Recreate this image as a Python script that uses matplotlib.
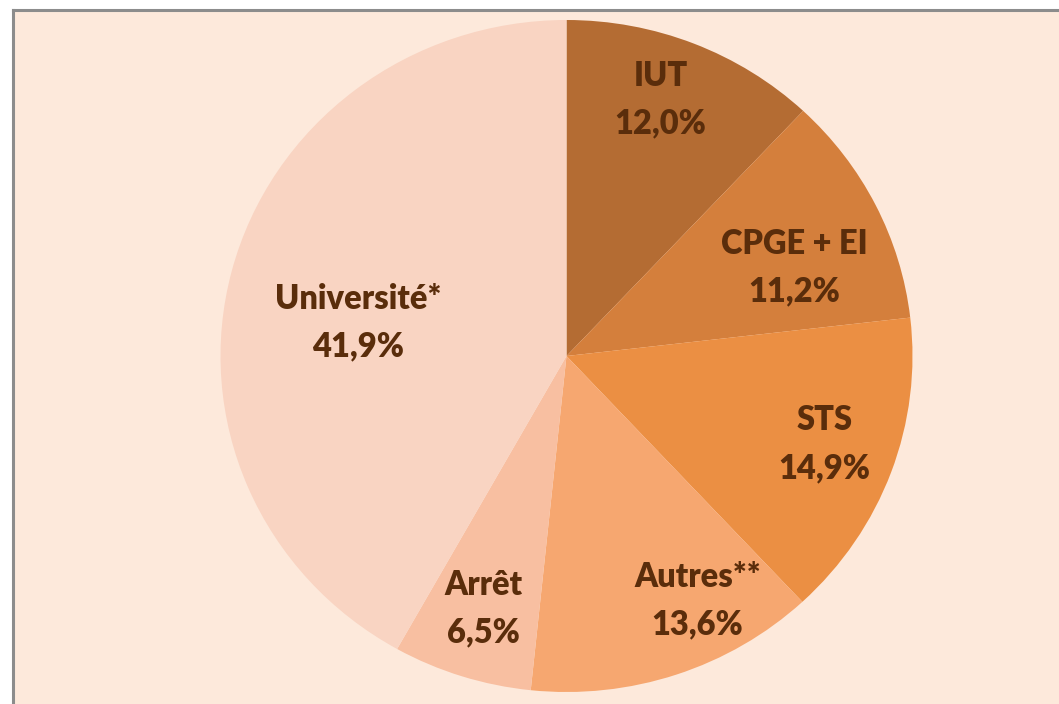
import numpy as np
import matplotlib
matplotlib.use('Agg')
import matplotlib.pyplot as plt
from matplotlib.lines import Line2D
from matplotlib.patches import Rectangle

# Data (part of each orientation, %)
labels = ['IUT', 'CPGE + EI', 'STS', 'Autres**', 'Arrêt', 'Université*']
values = [12.0, 11.2, 14.9, 13.6, 6.5, 41.9]
value_labels = ['12,0%', '11,2%', '14,9%', '13,6%', '6,5%', '41,9%']

colors = ['#B46C33', '#D47F3C', '#EB8F43', '#F6A770', '#F8BFA1', '#F9D4C2']
bg = '#FDE9DB'
txt_color = '#5A2D0B'

# label placement: distance from centre and angular shift vs wedge middle
label_dist = [0.81, 0.71, 0.79, 0.82, 0.79, 0.61]
label_shift = [2.0, -5.0, 0.8, 9.0, 0.0, 5.3]

W, H = 1059, 704
fig = plt.figure(figsize=(W / 100, H / 100), dpi=100)
fig.patch.set_facecolor('white')

# chart area with grey border (right / bottom edges are cropped)
fig.patches.append(Rectangle((13 / W, 0), 1, 1 - 10 / H, transform=fig.transFigure,
                             facecolor=bg, edgecolor='none', zorder=-5))
fig.lines.append(Line2D([13 / W, 13 / W], [0, 1 - 10 / H], transform=fig.transFigure,
                        color='#8C8C8C', lw=2.2, zorder=-4))
fig.lines.append(Line2D([13 / W, 1], [1 - 10 / H, 1 - 10 / H], transform=fig.transFigure,
                        color='#8C8C8C', lw=2.2, zorder=-4))

cx, cy, rx, ry = 566.5, 356, 346, 336
ax = fig.add_axes([(cx - rx) / W, (H - cy - ry) / H, 2 * rx / W, 2 * ry / H])
wedges, _ = ax.pie(values, colors=colors, startangle=90, counterclock=False,
                   wedgeprops=dict(linewidth=0))
ax.set_aspect('auto')
ax.set_xlim(-1, 1)
ax.set_ylim(-1, 1)
ax.axis('off')

for w, lab, vl, d, s in zip(wedges, labels, value_labels, label_dist, label_shift):
    ang = np.deg2rad((w.theta1 + w.theta2) / 2 + s)
    ax.text(d * np.cos(ang), d * np.sin(ang), lab + '\n' + vl, ha='center', va='center',
            fontsize=23.5, fontweight='heavy', family='Lato', color=txt_color,
            linespacing=1.6)

fig.savefig('out.png', dpi=100, facecolor=fig.get_facecolor())
